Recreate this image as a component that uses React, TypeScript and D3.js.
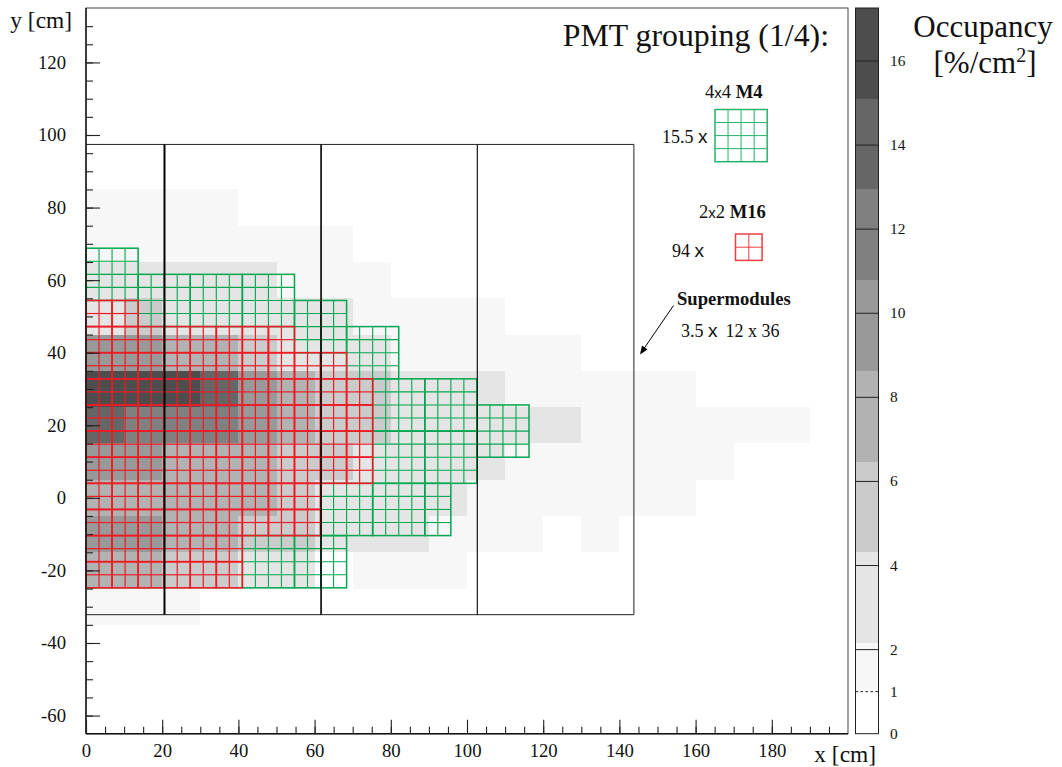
import React, { useEffect, useRef } from "react";
import * as d3 from "d3";

const WIDTH = 1062;
const HEIGHT = 767;
const SERIF = "'Liberation Serif', serif";
const SANS = "'Liberation Sans', sans-serif";

// occupancy histogram, one list per 10 cm row from the top (y = 85 down to -35), band index per 10 cm x bin
const rowTop = [85, 75, 65, 55, 45, 35, 25, 15, 5, -5, -15, -25];
const rowBands = [
  [1, 1, 1, 1],
  [1, 1, 1, 1, 1, 1, 1],
  [2, 2, 2, 2, 2, 1, 1, 1],
  [2, 3, 2, 2, 2, 2, 2, 1, 1, 1, 1],
  [5, 5, 4, 4, 3, 2, 2, 2, 1, 1, 1, 1, 1],
  [8, 8, 8, 7, 5, 4, 3, 3, 2, 2, 2, 1, 1, 1, 1, 1],
  [7, 6, 6, 6, 5, 4, 3, 3, 2, 2, 2, 2, 2, 1, 1, 1, 1, 1, 1],
  [5, 5, 4, 4, 4, 3, 3, 2, 2, 2, 2, 1, 1, 1, 1, 1, 1],
  [4, 4, 4, 4, 4, 3, 2, 2, 2, 2, 1, 1, 1, 1, 1, 1],
  [5, 5, 4, 4, 3, 3, 2, 2, 2, 1, 1, 1, 0, 1],
  [4, 4, 3, 3, 2, 2, 0, 1, 1, 1],
  [1, 1, 1],
];

// colour bands
const bandEdges = [0, 1, 2.16, 4.32, 6.47, 8.63, 10.79, 12.95, 15.1, 17.26];
const bandGreys = ["#ffffff", "#f7f7f7", "#e5e5e5", "#cbcbcb", "#b2b2b2", "#999999", "#808080", "#666666", "#4d4d4d"];
const barTicks = [2, 4, 6, 8, 10, 12, 14, 16];

// PMT tiles, in half-module steps
const xStepCm = 6.84;
const yStepCm = 7.2;
const yStartCm = 68.8;
const m4Tiles = [
  [0, 0], [2, 1], [4, 1], [6, 1], [8, 2], [10, 3], [11, 5], [13, 5],
  [11, 7], [13, 7], [15, 6], [9, 9], [11, 9], [6, 11], [8, 11],
];
const m4HalfTiles = [[13, 9]];
const m16FirstRow = 2;
const m16RowLengths = [2, 8, 10, 11, 11, 11, 11, 9, 9, 6, 6];

// supermodule outline
const smEdgesX = [20.6, 61.7, 102.7];
const smRight = 143.8;
const smTop = 97.4;
const smBottom = -32.2;
const smLineWidths = [2, 1.6, 1.1];

const GREEN = "#00a651";
const RED = "#ed1c24";

const x = d3.scaleLinear([0, 200], [86, 848]);
const y = d3.scaleLinear([-65, 135], [733.7, 8]);
const barY = d3.scaleLinear([0, 17.26], [733.7, 8]);

const Tile = ({ x0, y0, w, h, cols, rows, color, outline, inner, opacity = 1 }: any) => (
  <g stroke={color} fill="none" opacity={opacity}>
    {d3.range(1, cols).map((i) => (
      <line key={"c" + i} x1={x0 + (w * i) / cols} x2={x0 + (w * i) / cols} y1={y0} y2={y0 + h} strokeWidth={inner} />
    ))}
    {d3.range(1, rows).map((i) => (
      <line key={"r" + i} x1={x0} x2={x0 + w} y1={y0 + (h * i) / rows} y2={y0 + (h * i) / rows} strokeWidth={inner} />
    ))}
    <rect x={x0} y={y0} width={w} height={h} strokeWidth={outline} />
  </g>
);

const kx = (k: number) => x(k * xStepCm);
const ky = (k: number) => y(yStartCm - k * yStepCm);

const App = () => {
  const gx = useRef<SVGGElement>(null);
  const gxMinor = useRef<SVGGElement>(null);
  const gy = useRef<SVGGElement>(null);
  const gyMinor = useRef<SVGGElement>(null);

  useEffect(() => {
    const style = (g: any, size: number) => {
      g.select(".domain").remove();
      g.selectAll("line").attr("stroke", "#222").attr("stroke-width", 1.1);
      g.selectAll("text").attr("font-family", SERIF).attr("font-size", size).attr("fill", "#111");
    };
    const xMajor = d3.range(0, 181, 20);
    const yMajor = d3.range(-60, 121, 20);
    d3.select(gx.current).call(d3.axisBottom(x).tickValues(xMajor).tickSize(-14).tickPadding(10).tickFormat((d: any) => String(d)) as any).call(style, 18.7);
    d3.select(gxMinor.current).call(d3.axisBottom(x).tickValues(d3.range(0, 196, 5)).tickSize(-7).tickFormat(() => "") as any).call(style, 18.7);
    d3.select(gy.current).call(d3.axisLeft(y).tickValues(yMajor).tickSize(-14).tickPadding(20).tickFormat((d: any) => String(d)) as any).call(style, 18.7);
    d3.select(gyMinor.current).call(d3.axisLeft(y).tickValues(d3.range(-60, 131, 5)).tickSize(-7).tickFormat(() => "") as any).call(style, 18.7);
  }, []);

  const [x0, x1] = x.range();
  const [y0, y1] = y.range();

  return (
    <svg width={WIDTH} height={HEIGHT} style={{ position: "absolute", left: 0, top: 0, background: "#fff" }} fontFamily={SERIF} fill="#111">
      {/* occupancy cells */}
      <g shapeRendering="crispEdges">
        {rowBands.map((bands, r) =>
          bands.map((b, c) => (
            <rect
              key={r + "-" + c}
              x={x(c * 10)}
              y={y(rowTop[r])}
              width={x((c + 1) * 10) - x(c * 10)}
              height={y(rowTop[r] - 10) - y(rowTop[r])}
              fill={bandGreys[b]}
            />
          ))
        )}
      </g>

      {/* M4 tiles */}
      {m4Tiles.map(([c, r]) => (
        <Tile key={c + "_" + r} x0={kx(c)} y0={ky(r)} w={kx(c + 2) - kx(c)} h={ky(r + 2) - ky(r)} cols={4} rows={4} color={GREEN} outline={1.5} inner={1.1} />
      ))}
      {m4HalfTiles.map(([c, r]) => (
        <Tile key={c + "_" + r} x0={kx(c)} y0={ky(r)} w={kx(c + 1) - kx(c)} h={ky(r + 2) - ky(r)} cols={2} rows={4} color={GREEN} outline={1.5} inner={1.1} />
      ))}

      {/* M16 tiles */}
      {m16RowLengths.map((n, i) =>
        d3.range(n).map((c) => (
          <Tile
            key={i + "/" + c}
            x0={kx(c)}
            y0={ky(m16FirstRow + i)}
            w={kx(c + 1) - kx(c)}
            h={ky(m16FirstRow + i + 1) - ky(m16FirstRow + i)}
            cols={2}
            rows={2}
            color={RED}
            outline={1.6}
            inner={1.2}
          />
        ))
      )}

      {/* supermodules */}
      <path d={`M${x0},${y(smTop)}H${x(smRight)}V${y(smBottom)}H${x0}`} fill="none" stroke="#222" strokeWidth={1} />
      {smEdgesX.map((v, i) => (
        <line key={v} x1={x(v)} x2={x(v)} y1={y(smTop)} y2={y(smBottom)} stroke="#000" strokeWidth={smLineWidths[i]} />
      ))}

      {/* frame and axes */}
      <rect x={x0} y={y1} width={x1 - x0} height={y0 - y1} fill="none" stroke="#444" strokeWidth={1} />
      <line x1={x0} x2={x0} y1={y1} y2={y0} stroke="#111" strokeWidth={1.4} />
      <line x1={x0} x2={x1} y1={y0} y2={y0} stroke="#111" strokeWidth={1.4} />
      <g ref={gxMinor} transform={`translate(0,${y0})`} />
      <g ref={gx} transform={`translate(0,${y0})`} />
      <g ref={gyMinor} transform={`translate(${x0},0)`} />
      <g ref={gy} transform={`translate(${x0},0)`} />
      <text x={72} y={28} textAnchor="end" fontSize={23.4}>y [cm]</text>
      <text x={876} y={762} textAnchor="end" fontSize={23.4}>x [cm]</text>

      {/* annotations */}
      <text x={829} y={46} textAnchor="end" fontSize={31.8}>PMT grouping (1/4):</text>
      <text x={705} y={98} fontSize={18.6}>4<tspan fontFamily={SANS} fontSize={15}>x</tspan>4 <tspan fontWeight="bold">M4</tspan></text>
      <text x={662} y={143} fontSize={18}>15.5 <tspan fontFamily={SANS} fontSize={19}>x</tspan></text>
      <Tile x0={715} y0={109.5} w={52.2} h={52.2} cols={4} rows={4} color={GREEN} outline={1.5} inner={1} opacity={0.85} />
      <text x={699} y={218} fontSize={18.6}>2<tspan fontFamily={SANS} fontSize={15}>x</tspan>2 <tspan fontWeight="bold">M16</tspan></text>
      <text x={672} y={257} fontSize={18}>94 <tspan fontFamily={SANS} fontSize={19}>x</tspan></text>
      <Tile x0={735.5} y0={234} w={26.6} h={26.4} cols={2} rows={2} color={RED} outline={1.5} inner={1} opacity={0.85} />
      <text x={677} y={305} fontSize={18.6} fontWeight="bold">Supermodules</text>
      <text x={681} y={337} fontSize={18}>3.5 <tspan fontFamily={SANS} fontSize={19}>x</tspan><tspan dx={8}>12 x 36</tspan></text>
      <line x1={673.5} y1={305.5} x2={643} y2={350} stroke="#000" strokeWidth={1} />
      <path d="M640,354.5L642,345.5L647.5,349.5Z" fill="#000" />

      {/* colour bar */}
      <g shapeRendering="crispEdges">
        {bandGreys.map((g, i) => (
          <rect key={g} x={855.5} y={barY(bandEdges[i + 1])} width={23} height={barY(bandEdges[i]) - barY(bandEdges[i + 1])} fill={g} />
        ))}
      </g>
      {barTicks.map((t) => (
        <line key={t} x1={855.5} x2={878.5} y1={barY(t)} y2={barY(t)} stroke="#222" strokeWidth={1} />
      ))}
      <line x1={855.5} x2={878.5} y1={barY(1)} y2={barY(1)} stroke="#222" strokeWidth={1} strokeDasharray="2.5 2.5" />
      <rect x={855.5} y={8} width={23} height={725.7} fill="none" stroke="#222" strokeWidth={1} />
      {[0, 1, ...barTicks].map((t) => (
        <text key={t} x={890} y={barY(t) + 5} fontSize={15.4}>{t}</text>
      ))}
      <text x={983} y={37} textAnchor="middle" fontSize={31}>Occupancy</text>
      <text x={985} y={73} textAnchor="middle" fontSize={31}>[%/cm<tspan fontSize={20} dy={-11}>2</tspan><tspan dy={11}>]</tspan></text>
    </svg>
  );
};

export default App;
